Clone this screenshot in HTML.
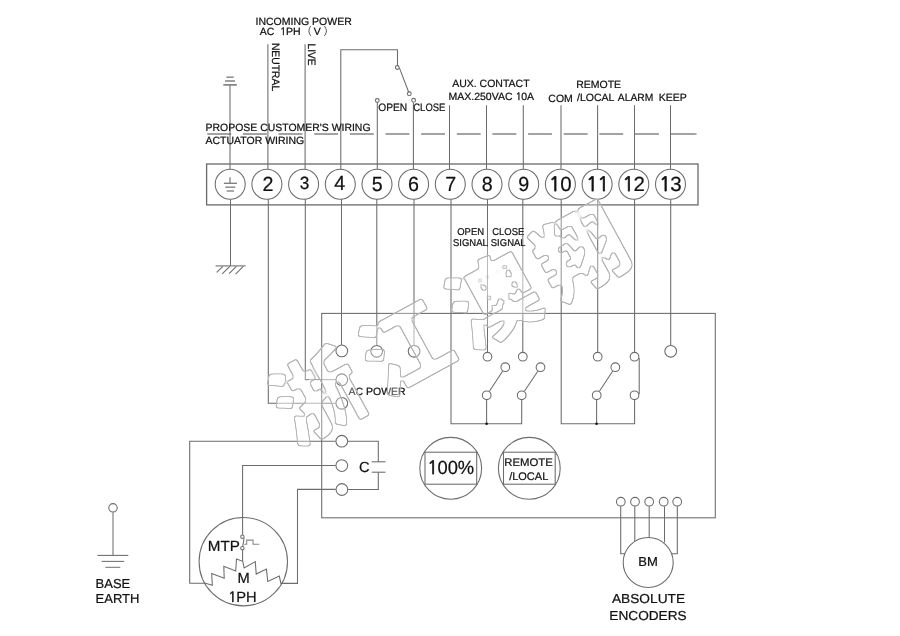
<!DOCTYPE html>
<html lang="en">
<head>
<meta charset="utf-8">
<title>Actuator wiring diagram</title>
<style>
html,body{margin:0;padding:0;background:#fff;}
body{width:900px;height:636px;overflow:hidden;}
svg{display:block;}
svg{will-change:transform;}
.pz{stroke-width:0;fill:#333;}
.d1{font-family:"NanumGothic","Liberation Sans",sans-serif;font-size:0.965em;letter-spacing:-0.03em;stroke-width:0.036em;}
svg text{font-family:"Liberation Sans","Noto Sans CJK SC",sans-serif;fill:#111;stroke:#111;stroke-width:0.22px;text-rendering:geometricPrecision;}
</style>
</head>
<body>
<svg width="900" height="636" viewBox="0 0 900 636">
<rect x="0" y="0" width="900" height="636" fill="#fff"/>
<g fill="none" stroke="#6c6c6c" stroke-width="1.06" stroke-linecap="butt" stroke-linejoin="miter">
<line x1="207.3" y1="134" x2="694.4" y2="134" stroke="#858585" stroke-width="1.3" stroke-dasharray="23.9 11.74"/><line x1="694" y1="134" x2="696.6" y2="134" stroke="#858585" stroke-width="1.3"/>
<rect x="206.6" y="164" width="491.4" height="40.9" fill="none" stroke="#6a6a6a" stroke-width="1.3"/>
<line x1="230.0" y1="85" x2="230.0" y2="169"/>
<line x1="226.4" y1="77.2" x2="233.7" y2="77.2" stroke="#8c8c8c" stroke-width="1.5"/>
<line x1="225" y1="81.0" x2="235" y2="81.0" stroke="#808080" stroke-width="1.5"/>
<line x1="223.3" y1="84.9" x2="236.8" y2="84.9" stroke="#727272" stroke-width="1.5"/>
<line x1="267.9" y1="44.2" x2="267.9" y2="169"/>
<line x1="305.1" y1="44.2" x2="305.1" y2="169"/>
<polyline points="340.8,169 340.8,49.7 397.5,49.7 397.5,65.5"/>
<line x1="399.4" y1="67.9" x2="408.7" y2="92.2"/>
<circle cx="397.3" cy="67.5" r="1.9" fill="#fff"/>
<circle cx="409.3" cy="93.8" r="1.9" fill="#fff"/>
<line x1="377.3" y1="102.5" x2="377.3" y2="169"/>
<circle cx="377.3" cy="100.5" r="1.9" fill="#fff"/>
<line x1="413.4" y1="102.5" x2="413.4" y2="169"/>
<circle cx="413.6" cy="100.3" r="1.9" fill="#fff"/>
<line x1="449.5" y1="105.2" x2="449.5" y2="169"/>
<line x1="486.5" y1="105.2" x2="486.5" y2="169"/>
<line x1="523.3" y1="105.2" x2="523.3" y2="169"/>
<line x1="561.0" y1="105.2" x2="561.0" y2="169"/>
<line x1="597.6" y1="105.2" x2="597.6" y2="169"/>
<line x1="634.5" y1="105.2" x2="634.5" y2="169"/>
<line x1="670.5" y1="105.2" x2="670.5" y2="169"/>
<line x1="230.5" y1="199" x2="230.5" y2="265.9"/>
<line x1="215.6" y1="265.9" x2="245.6" y2="265.9"/>
<line x1="222.9" y1="266.3" x2="216.7" y2="272.3"/>
<line x1="229.8" y1="266.3" x2="222.2" y2="273.9"/>
<line x1="236.4" y1="266.3" x2="229.1" y2="273.7"/>
<line x1="243.3" y1="266.3" x2="235.6" y2="274.1"/>
<polyline points="268.3,199 268.3,403.3 278,403.3"/>
<line x1="278" y1="403.3" x2="336" y2="403.3" stroke="#9c9c9c"/>
<polyline points="305.3,199 305.3,379.6 309,379.6"/>
<line x1="309" y1="379.6" x2="336" y2="379.6" stroke="#9c9c9c"/>
<line x1="341.5" y1="199" x2="341.5" y2="345"/>
<line x1="376.8" y1="199" x2="376.8" y2="325"/>
<line x1="376.8" y1="325" x2="376.8" y2="345" stroke="#9c9c9c"/>
<line x1="414.0" y1="199" x2="414.0" y2="318"/>
<line x1="414.0" y1="318" x2="414.0" y2="345" stroke="#9c9c9c"/>
<polyline points="451.0,199 451.0,423.7 521.7,423.7 521.7,400"/>
<line x1="487.5" y1="199" x2="487.5" y2="247"/>
<line x1="487.5" y1="247" x2="487.5" y2="298" stroke="#9c9c9c"/>
<line x1="487.5" y1="298" x2="487.5" y2="352"/>
<line x1="522.8" y1="199" x2="522.8" y2="247"/>
<line x1="522.8" y1="247" x2="522.8" y2="314" stroke="#9c9c9c"/>
<line x1="522.8" y1="314" x2="522.8" y2="352"/>
<line x1="486.6" y1="400" x2="486.6" y2="423.7"/>
<polyline points="561.2,199 561.2,423.7 634.6,423.7 634.6,400"/>
<line x1="597.7" y1="199" x2="597.7" y2="352"/>
<line x1="634.6" y1="199" x2="634.6" y2="352"/>
<line x1="596.6" y1="400" x2="596.6" y2="423.7"/>
<line x1="670.7" y1="199" x2="670.7" y2="345"/>
<circle cx="486.6" cy="423.7" r="1.3" fill="#111" stroke="none"/>
<circle cx="596.6" cy="423.7" r="1.3" fill="#111" stroke="none"/>
<rect x="321.7" y="313.4" width="393.6" height="204.4" fill="none"/>
<circle cx="341.8" cy="350.9" r="5.85" fill="#fff"/>
<circle cx="376.7" cy="351.3" r="5.85" fill="#fff"/>
<circle cx="414.1" cy="351.3" r="5.85" fill="#fff"/>
<circle cx="670.7" cy="351.3" r="5.85" fill="#fff"/>
<circle cx="341.8" cy="379.7" r="5.85" fill="#fff"/>
<circle cx="341.8" cy="403.3" r="5.85" fill="#fff"/>
<circle cx="341.8" cy="441.2" r="5.85" fill="#fff"/>
<circle cx="341.8" cy="465.6" r="5.85" fill="#fff"/>
<circle cx="341.9" cy="489.5" r="5.85" fill="#fff"/>
<circle cx="487.5" cy="356.7" r="4.35" fill="#fff"/>
<circle cx="522.8" cy="356.7" r="4.35" fill="#fff"/>
<circle cx="505.3" cy="367.2" r="4.35" fill="#fff"/>
<circle cx="540.5" cy="367.2" r="4.35" fill="#fff"/>
<circle cx="486.7" cy="395.3" r="4.35" fill="#fff"/>
<circle cx="521.7" cy="395.3" r="4.35" fill="#fff"/>
<circle cx="597.7" cy="356.7" r="4.35" fill="#fff"/>
<circle cx="634.5" cy="356.7" r="4.35" fill="#fff"/>
<circle cx="615.3" cy="367.2" r="4.35" fill="#fff"/>
<circle cx="596.7" cy="395.3" r="4.35" fill="#fff"/>
<circle cx="634.5" cy="395.3" r="4.35" fill="#fff"/>
<line x1="489.4" y1="391.3" x2="502.6" y2="371.2"/>
<line x1="524.4" y1="391.3" x2="537.8" y2="371.2"/>
<line x1="599.4" y1="391.3" x2="612.6" y2="371.2"/>
<line x1="639.2" y1="358" x2="639.2" y2="394"/>
<polyline points="348,441.2 378.3,441.2 378.3,461.8"/>
<polyline points="348,489.5 378.3,489.5 378.3,472.2"/>
<line x1="371.7" y1="461.8" x2="385.5" y2="461.8"/>
<line x1="371.7" y1="472.2" x2="385.5" y2="472.2"/>
<polyline points="335.7,441.2 189.7,441.2 189.7,583.2 205.5,583.2 212.3,585.3 211.7,573.5 224.2,578.3 223.8,566.3 235.7,571 236.5,559 242.8,561.3 244.1,568 255.3,561.6 256.2,574.1 266.4,569.1 267.8,581.4 279.3,576.1 280.9,583.4 297.5,583.4 297.5,489.4 335.7,489.4"/>
<polyline points="335.7,465.5 242.6,465.5 242.6,535"/>
<line x1="242.6" y1="550" x2="242.6" y2="561"/>
<line x1="244.1" y1="538.2" x2="242.8" y2="546.2"/>
<circle cx="242.4" cy="536.7" r="1.7" fill="#fff"/>
<circle cx="242.4" cy="548.2" r="1.7" fill="#fff"/>
<polyline points="244.3,544.2 246.7,544.2 246.7,540.1 253.1,540.1 253.1,544.2 259.3,544.2" stroke="#888"/>
<circle cx="243.3" cy="561.7" r="44.2" fill="none"/>
<circle cx="450.7" cy="468.3" r="30.9" fill="none"/>
<rect x="425" y="452.2" width="51.7" height="32" fill="none"/>
<circle cx="529.3" cy="468.3" r="30.9" fill="none"/>
<rect x="503.5" y="452.2" width="51.7" height="32" fill="none"/>
<circle cx="620.8" cy="501.7" r="4.35" fill="#fff"/>
<circle cx="635" cy="501.7" r="4.35" fill="#fff"/>
<circle cx="649.2" cy="501.7" r="4.35" fill="#fff"/>
<circle cx="663.7" cy="501.7" r="4.35" fill="#fff"/>
<circle cx="677.2" cy="501.7" r="4.35" fill="#fff"/>
<polyline points="620.7,506.3 620.7,553.8 624.8,553.8"/>
<line x1="634.8" y1="506.3" x2="634.8" y2="541.5"/>
<line x1="649.2" y1="506.3" x2="649.2" y2="537.5"/>
<line x1="664.5" y1="506.3" x2="664.5" y2="542.5"/>
<polyline points="677.3,506.3 677.3,553.8 671.8,553.8"/>
<circle cx="648.2" cy="562.5" r="25" fill="none"/>
<circle cx="113" cy="507.8" r="4.2" fill="#fff"/>
<line x1="113" y1="512.3" x2="113" y2="555.4" stroke="#707070"/>
<line x1="97.4" y1="555.4" x2="128.3" y2="555.4" stroke="#6c6c6c"/>
<line x1="101.7" y1="561.4" x2="124.2" y2="561.4" stroke="#707070"/>
<line x1="105.3" y1="567.3" x2="120.3" y2="567.3" stroke="#757575"/>
<circle cx="230.2" cy="184.2" r="15.0" fill="#fff"/>
<circle cx="266.9" cy="184.2" r="15.0" fill="#fff"/>
<circle cx="303.6" cy="184.2" r="15.0" fill="#fff"/>
<circle cx="340.3" cy="184.2" r="15.0" fill="#fff"/>
<circle cx="377.0" cy="184.2" r="15.0" fill="#fff"/>
<circle cx="413.6" cy="184.2" r="15.0" fill="#fff"/>
<circle cx="450.3" cy="184.2" r="15.0" fill="#fff"/>
<circle cx="487.0" cy="184.2" r="15.0" fill="#fff"/>
<circle cx="523.7" cy="184.2" r="15.0" fill="#fff"/>
<circle cx="560.4" cy="184.2" r="15.0" fill="#fff"/>
<circle cx="597.1" cy="184.2" r="15.0" fill="#fff"/>
<circle cx="633.8" cy="184.2" r="15.0" fill="#fff"/>
<circle cx="670.5" cy="184.2" r="15.0" fill="#fff"/>
<line x1="230.0" y1="177.2" x2="230.0" y2="183.3" stroke="#808080" stroke-width="1.3"/>
<line x1="223.9" y1="183.3" x2="237" y2="183.3" stroke="#808080" stroke-width="1.4"/>
<line x1="225.3" y1="187.2" x2="235.3" y2="187.2" stroke="#868686" stroke-width="1.4"/>
<line x1="226.7" y1="191.0" x2="234" y2="191.0" stroke="#868686" stroke-width="1.4"/>
</g>
<g>
<text transform="translate(267.9,190.8) scale(0.96,1)" font-size="20.5" text-anchor="middle">2</text>
<text transform="translate(304.5,189.3) scale(0.97,1)" font-size="17.8" text-anchor="middle">3</text>
<text transform="translate(339.8,190.3) scale(0.96,1)" font-size="20.5" text-anchor="middle">4</text>
<text transform="translate(377.2,191.1) scale(0.96,1)" font-size="20.5" text-anchor="middle">5</text>
<text transform="translate(413.5,191.2) scale(0.96,1)" font-size="20.5" text-anchor="middle">6</text>
<text transform="translate(450.7,191.4) scale(0.96,1)" font-size="20.5" text-anchor="middle">7</text>
<text transform="translate(487.2,191.2) scale(0.96,1)" font-size="20.5" text-anchor="middle">8</text>
<text transform="translate(523.8,191.2) scale(0.96,1)" font-size="20.5" text-anchor="middle">9</text>
<text transform="translate(560.2,191.2) scale(1.0,1)" font-size="20.5" text-anchor="middle"><tspan class="d1">1</tspan>0</text>
<text transform="translate(597.3,191.2) scale(1.0,1)" font-size="20.5" text-anchor="middle"><tspan class="d1">1</tspan><tspan class="d1">1</tspan></text>
<text transform="translate(633.6,191.2) scale(1.0,1)" font-size="20.5" text-anchor="middle"><tspan class="d1">1</tspan>2</text>
<text transform="translate(670.3,191.2) scale(1.0,1)" font-size="20.5" text-anchor="middle"><tspan class="d1">1</tspan>3</text>
<text x="255.5" y="25.3" font-size="10.5">INCOMING POWER</text>
<text x="259.7" y="35" font-size="10.5" xml:space="preserve">AC  <tspan class="d1">1</tspan>PH <tspan x="301.3" class="pz">（</tspan><tspan x="313.7">V</tspan><tspan x="323.6" class="pz">）</tspan></text>
<text transform="translate(271.5,42.9) rotate(90) scale(0.958,1)" font-size="10.8">NEUTRAL</text>
<text transform="translate(308.4,43.5) rotate(90) scale(0.944,1)" font-size="10.8">LIVE</text>
<text transform="translate(205.6,131.0) scale(0.995,1)" font-size="10.5">PROPOSE CUSTOMER'S WIRING</text>
<text x="205.5" y="144.3" font-size="10.5">ACTUATOR WIRING</text>
<text transform="translate(378.3,110.6) scale(0.945,1)" font-size="10.8">OPEN</text>
<text transform="translate(413.3,110.6) scale(0.875,1)" font-size="10.8">CLOSE</text>
<text x="452.2" y="87.2" font-size="10.5">AUX. CONTACT</text>
<text x="448.5" y="99.6" font-size="10.5">MAX.250VAC <tspan class="d1">1</tspan>0A</text>
<text x="548.3" y="102" font-size="10.5">COM</text>
<text x="576.2" y="88.2" font-size="10.5">REMOTE</text>
<text x="577" y="101.2" font-size="10.5">/LOCAL</text>
<text transform="translate(617.8,101.1) scale(0.98,1)" font-size="10.5">ALARM</text>
<text x="658.7" y="100.5" font-size="10.5">KEEP</text>
<text transform="translate(457.2,234.6) scale(0.96,1)" font-size="9.9">OPEN</text>
<text transform="translate(453,245.8) scale(0.96,1)" font-size="9.9">SIGNAL</text>
<text transform="translate(492.2,234.6) scale(0.96,1)" font-size="9.9">CLOSE</text>
<text transform="translate(490.8,245.8) scale(0.96,1)" font-size="9.9">SIGNAL</text>
<text x="348.5" y="394.7" font-size="10.5">AC POWER</text>
<text x="359" y="471.7" font-size="14.7">C</text>
<text transform="translate(450.7,474.2) scale(0.965,1)" font-size="19" text-anchor="middle"><tspan class="d1">1</tspan>00%</text>
<text transform="translate(528.5,466.4) scale(1.03,1)" font-size="11" text-anchor="middle">REMOTE</text>
<text x="528.7" y="480.4" font-size="11" text-anchor="middle">/LOCAL</text>
<text x="648" y="565.5" font-size="13" text-anchor="middle">BM</text>
<text transform="translate(648.5,603.3) scale(1.055,1)" font-size="13" text-anchor="middle">ABSOLUTE</text>
<text transform="translate(648,620) scale(1.05,1)" font-size="13" text-anchor="middle">ENCODERS</text>
<text x="95.6" y="587.8" font-size="13">BASE</text>
<text x="95.6" y="603.3" font-size="13">EARTH</text>
<text transform="translate(207.8,551.2) scale(1.035,1)" font-size="14.7">MTP</text>
<text x="243.6" y="583.4" font-size="14.7" text-anchor="middle">M</text>
<text x="242.3" y="602.3" font-size="14.7" text-anchor="middle"><tspan class="d1">1</tspan>PH</text>
</g>
<g>
<defs>
<filter id="wmf" filterUnits="userSpaceOnUse" x="200" y="150" width="500" height="340" color-interpolation-filters="sRGB">
<feGaussianBlur in="SourceAlpha" stdDeviation="1.7" result="b"/>
<feComponentTransfer in="b" result="t"><feFuncA type="linear" slope="6" intercept="-2.3"/></feComponentTransfer>
<feMorphology in="t" operator="erode" radius="0.5" result="e"/>
<feComposite in="t" in2="e" operator="out" result="o"/>
<feFlood flood-color="#b6b6b6" result="c"/>
<feComposite in="c" in2="o" operator="in" result="line"/>
<feFlood flood-color="#ffffff" flood-opacity="0.3" result="w"/>
<feComposite in="w" in2="e" operator="in" result="fill"/>
<feMerge><feMergeNode in="fill"/><feMergeNode in="line"/></feMerge>
</filter>
</defs>
<g filter="url(#wmf)"><text transform="translate(294,447) rotate(-28.6)" font-family="'Noto Sans CJK SC','WenQuanYi Zen Hei',sans-serif" font-weight="900" font-size="90" style="fill:#000;stroke:none" letter-spacing="10">浙江澳翔</text></g>
</g>
</svg>
</body>
</html>
